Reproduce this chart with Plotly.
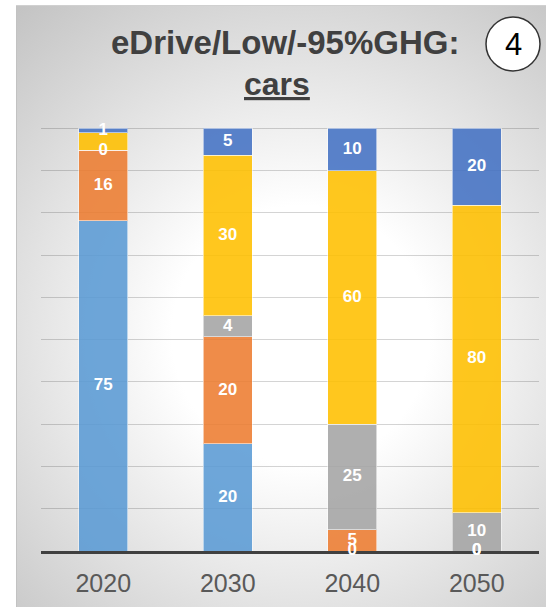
import base64
import numpy as np
import plotly.graph_objects as go

# ---------------- data ----------------
years = ["2020", "2030", "2040", "2050"]
series_names = ["Series 1", "Series 2", "Series 3", "Series 4", "Series 5"]
light_blue_vals = [75, 20, 0, 0]
orange_vals = [16, 20, 5, 0]
gray_vals = [0, 4, 25, 10]
yellow_vals = [4, 30, 60, 80]
dark_blue_vals = [1, 5, 10, 20]
# data labels as shown on the chart (2020 yellow label is not displayed)
light_blue_text = ["75", "20", "0", "0"]
orange_text = ["16", "20", "5", "0"]
gray_text = ["0", "4", "25", "10"]
yellow_text = ["", "30", "60", "80"]
dark_blue_text = ["1", "5", "10", "20"]

title_line1 = "eDrive/Low/-95%GHG:"
title_line2 = "cars"
badge_text = "4"

# ---------------- styles ----------------
colors = ["#5B9BD5", "#ED7D31", "#A5A5A5", "#FFC000", "#4472C4"]
W, H = 546, 607
ML, MR, MT, MB = 41, 7, 127, 56
PW, PH = W - ML - MR, H - MT - MB
FONT = "Liberation Sans, Arial, sans-serif"


def px(x):
    return (x - ML) / PW


def py(y):
    return (H - MB - y) / PH


values = [light_blue_vals, orange_vals, gray_vals, yellow_vals, dark_blue_vals]
texts = [light_blue_text, orange_text, gray_text, yellow_text, dark_blue_text]

fig = go.Figure()
for name, vals, col in zip(series_names, values, colors):
    fig.add_trace(go.Bar(
        x=years, y=vals, name=name,
        marker=dict(color=col, opacity=0.88,
                    line=dict(color="rgba(255,255,255,0.55)", width=1)),
        hoverinfo="skip", showlegend=False,
    ))

# labels at the centre of each segment (percent-normalised positions)
arr = np.array(values, dtype=float)
tot = arr.sum(axis=0)
pct = arr / tot * 100
cum = np.cumsum(pct, axis=0)
mid = cum - pct / 2
for i, txt in enumerate(texts):
    fig.add_trace(go.Scatter(
        x=years, y=mid[i], mode="text", text=txt,
        textposition="middle center",
        textfont=dict(family=FONT, size=17, color="white", weight="bold"),
        hoverinfo="skip", showlegend=False, cliponaxis=False,
    ))

# gradient panel background as inline svg
svg = (
    '<svg xmlns="http://www.w3.org/2000/svg" width="530" height="602" '
    'viewBox="0 0 530 602" preserveAspectRatio="none">'
    '<defs><radialGradient id="g" gradientUnits="userSpaceOnUse" cx="285" cy="330" r="430">'
    '<stop offset="0" stop-color="#ffffff"/>'
    '<stop offset="0.3" stop-color="#ffffff"/>'
    '<stop offset="1" stop-color="#c4c4c4"/>'
    '</radialGradient></defs>'
    '<rect x="0" y="0" width="530" height="602" fill="url(#g)"/>'
    '<line x1="0.5" y1="0" x2="0.5" y2="602" stroke="#c2c2c2" stroke-width="1"/>'
    '<line x1="0" y1="0.5" x2="530" y2="0.5" stroke="#d0d0d0" stroke-width="1"/>'
    '</svg>'
)
src = "data:image/svg+xml;base64," + base64.b64encode(svg.encode()).decode()

fig.update_layout(
    width=W, height=H,
    margin=dict(l=ML, r=MR, t=MT, b=MB, pad=0),
    paper_bgcolor="white", plot_bgcolor="rgba(0,0,0,0)",
    barmode="stack", barnorm="percent", bargap=0.61,
    images=[dict(source=src, xref="paper", yref="paper",
                 x=px(16), y=py(5), sizex=(W - 16) / PW, sizey=(H - 5) / PH,
                 xanchor="left", yanchor="top", sizing="stretch", layer="below")],
    xaxis=dict(
        showgrid=False, showline=True, linecolor="#404040", linewidth=3,
        tickfont=dict(family=FONT, size=25, color="#595959"),
        ticks="", layer="below traces", range=[-0.5, 3.5], fixedrange=True,
        ticklabelstandoff=8,
    ),
    yaxis=dict(
        range=[0, 100.3], tick0=0, dtick=10, showticklabels=False, ticks="",
        showgrid=True, gridcolor="rgba(0,0,0,0.17)", gridwidth=1,
        zeroline=False, showline=False, layer="below traces", fixedrange=True,
    ),
    annotations=[
        dict(text="<b>" + title_line1 + "</b>", x=px(285), y=py(42), xref="paper", yref="paper",
             showarrow=False, xanchor="center", yanchor="middle",
             font=dict(family=FONT, size=33, color="#404040")),
        dict(text="<b><u>" + title_line2 + "</u></b>", x=px(277), y=py(84), xref="paper", yref="paper",
             showarrow=False, xanchor="center", yanchor="middle",
             font=dict(family=FONT, size=32, color="#404040")),
        dict(text=badge_text, x=px(513), y=py(44), xref="paper", yref="paper",
             showarrow=False, xanchor="center", yanchor="middle",
             font=dict(family=FONT, size=31, color="black")),
    ],
    shapes=[
        dict(type="circle", xref="paper", yref="paper",
             x0=px(486), x1=px(540), y0=py(71), y1=py(17),
             fillcolor="white", line=dict(color="#333333", width=1.5), layer="above"),
    ],
)
fig.write_html("out.html")
